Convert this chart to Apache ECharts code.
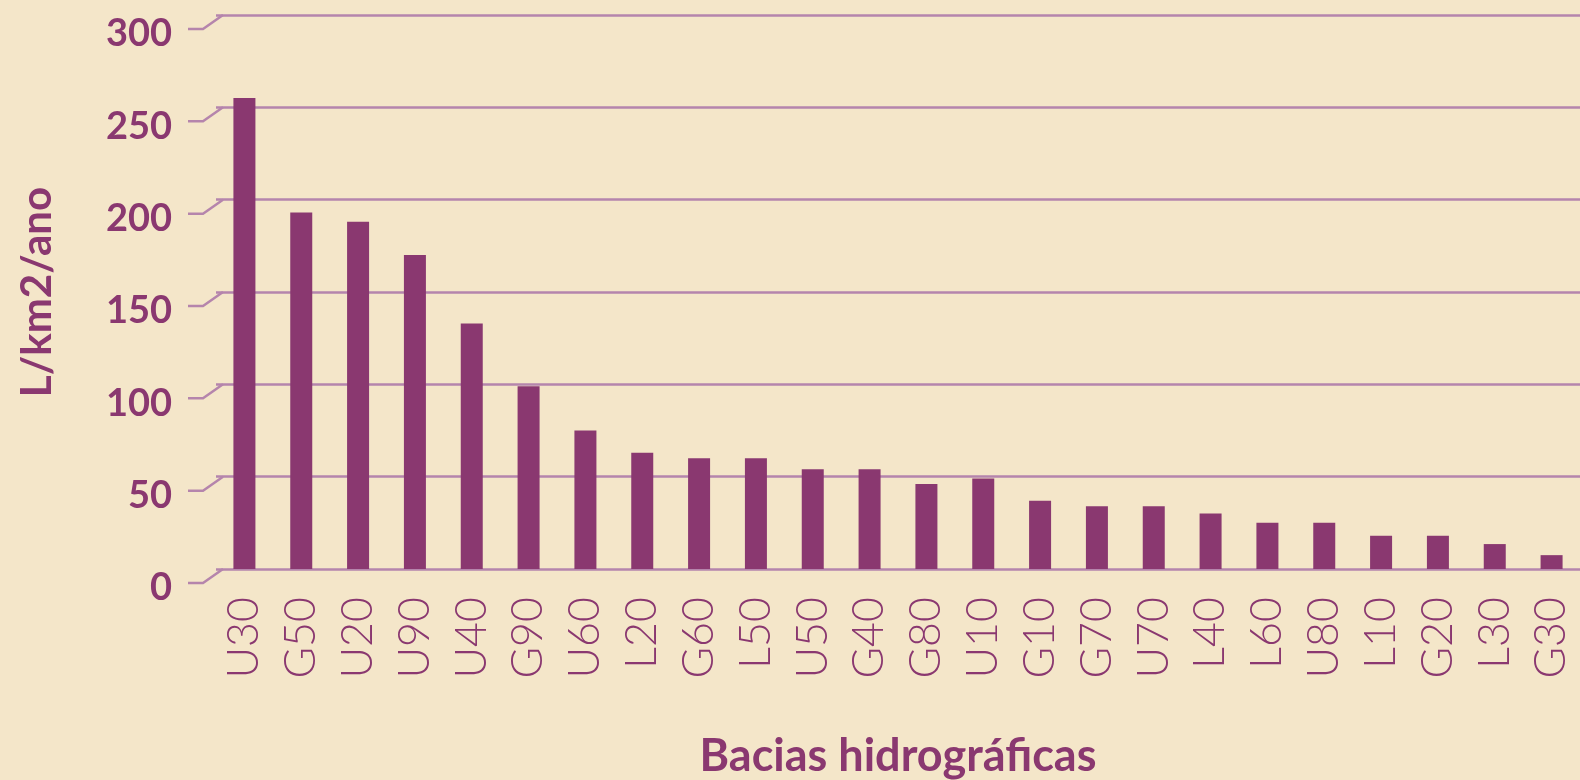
<!DOCTYPE html>
<html>
<head>
<meta charset="utf-8">
<title>Bacias hidrográficas</title>
<script src="https://cdn.jsdelivr.net/npm/echarts@6/dist/echarts.min.js"></script>
<style>
  html, body { margin: 0; padding: 0; background: #f4e6c9; }
  #chart { width: 1580px; height: 780px; }
</style>
</head>
<body>
<div id="chart"></div>
<script>
// bacias ordenadas pelo valor
const categories = ["U30", "G50", "U20", "U90", "U40", "G90", "U60", "L20", "G60", "L50", "U50", "G40",
  "G80", "U10", "G10", "G70", "U70", "L40", "L60", "U80", "L10", "G20", "L30", "G30"];
const values = [255, 193, 188, 170, 133, 99, 75, 63, 60, 60, 54, 54,
  46, 49, 37, 34, 34, 30, 25, 25, 18, 18, 13.5, 7.5];
const yTicks = [0, 50, 100, 150, 200, 250, 300];

const purple = "#8a3870";
const lineColor = "#b585ac";

const chart = echarts.init(document.getElementById("chart"));

const option = {
  backgroundColor: "#f4e6c9",
  grid: {
    left: 216,
    right: 0,
    top: 15,
    bottom: 211,
    containLabel: false,
    outerBoundsMode: "none",
  },
  xAxis: {
    type: "category",
    data: categories,
    name: "Bacias hidrográficas",
    nameLocation: "middle",
    nameGap: 165,
    nameTextStyle: {
      color: purple,
      fontFamily: "Lato",
      fontWeight: "bold",
      fontSize: 45,
    },
    axisLine: { show: false },
    axisTick: { show: false },
    axisLabel: {
      rotate: 90,
      interval: 0,
      margin: 28,
      color: purple,
      fontFamily: "Lato",
      fontWeight: 300,
      fontSize: 43,
    },
  },
  yAxis: {
    type: "value",
    min: 0,
    max: 300,
    interval: 50,
    name: "L/km2/ano",
    nameLocation: "middle",
    nameGap: 158,
    nameTextStyle: {
      color: purple,
      fontFamily: "Lato",
      fontWeight: "bold",
      fontSize: 42,
    },
    axisLine: { show: false },
    axisTick: { show: false },
    axisLabel: {
      margin: 44,
      verticalAlign: "top",
      color: purple,
      fontFamily: "Lato",
      fontWeight: "bold",
      fontSize: 38,
    },
    splitLine: {
      lineStyle: { color: lineColor, width: 2.5 },
    },
  },
  series: [
    {
      type: "bar",
      data: values,
      barWidth: 22,
      itemStyle: { color: purple },
      z: 3,
    },
    {
      // tracinhos inclinados ao lado dos rótulos do eixo y
      type: "custom",
      data: yTicks.map((v) => [0, v]),
      silent: true,
      clip: false,
      renderItem: (params, api) => {
        const y = api.coord([0, api.value(1)])[1];
        const x0 = params.coordSys.x;
        return {
          type: "polyline",
          shape: { points: [[x0 + 7, y], [x0 - 13, y + 14], [x0 - 28, y + 14]] },
          style: { stroke: lineColor, lineWidth: 2.5, fill: null },
        };
      },
    },
  ],
};

chart.setOption(option);
window.addEventListener("resize", () => chart.resize());
</script>
</body>
</html>
